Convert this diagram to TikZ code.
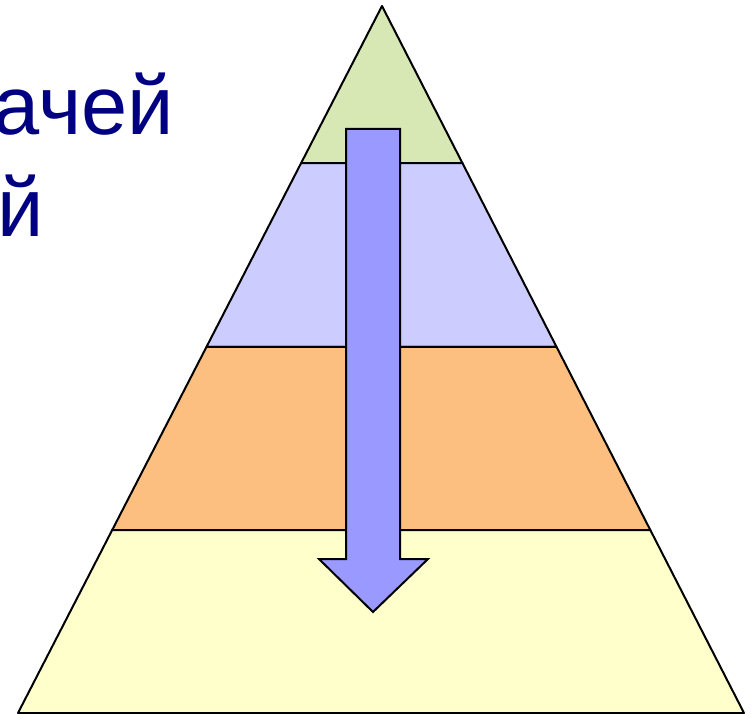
\documentclass[tikz,border=0pt]{standalone}
\usepackage{fontspec}
\setmainfont{Liberation Sans}
\usetikzlibrary{calc}
\definecolor{bandgreen}{RGB}{216,232,181}
\definecolor{bandlilac}{RGB}{204,204,255}
\definecolor{bandorange}{RGB}{253,191,128}
\definecolor{bandyellow}{RGB}{255,255,204}
\definecolor{arrowblue}{RGB}{153,153,255}
\definecolor{textnavy}{RGB}{0,0,128}
\newcommand{\pyrband}[3]{
	\filldraw[line width=2pt, line join=round, fill=#3]
	($(apex)!#1!(bl)$) -- ($(apex)!#2!(bl)$)
	-- ($(apex)!#2!(br)$) -- ($(apex)!#1!(br)$) -- cycle;
}
\begin{document}
\begin{tikzpicture}[x=1pt,y=-1pt]
			\useasboundingbox (0,0) rectangle (756,714);
			\clip (0,0) rectangle (756,714);
			\coordinate (apex) at (382,6);
			\coordinate (bl) at (18,713);
			\coordinate (br) at (744,713);
			
			\pyrband{0}{0.2221}{bandgreen}
			\pyrband{0.2221}{0.4823}{bandlilac}
			\pyrband{0.4823}{0.7412}{bandorange}
			\pyrband{0.7412}{1}{bandyellow}
			
			\filldraw[line width=2pt, line join=miter, fill=arrowblue]
			(346,129) -- (400,129) -- (400,559) -- (428,559)
			-- (373,612) -- (319,559) -- (346,559) -- cycle;
			
			\node[anchor=base east, inner sep=0, text=textnavy,
				font=\fontsize{83}{100}\selectfont] (line1) at (174,135) {ачей};
			\node[anchor=base east, inner sep=0, text=textnavy,
				font=\fontsize{83}{100}\selectfont] (line2) at (44,237) {й};
		\end{tikzpicture}
\end{document}
